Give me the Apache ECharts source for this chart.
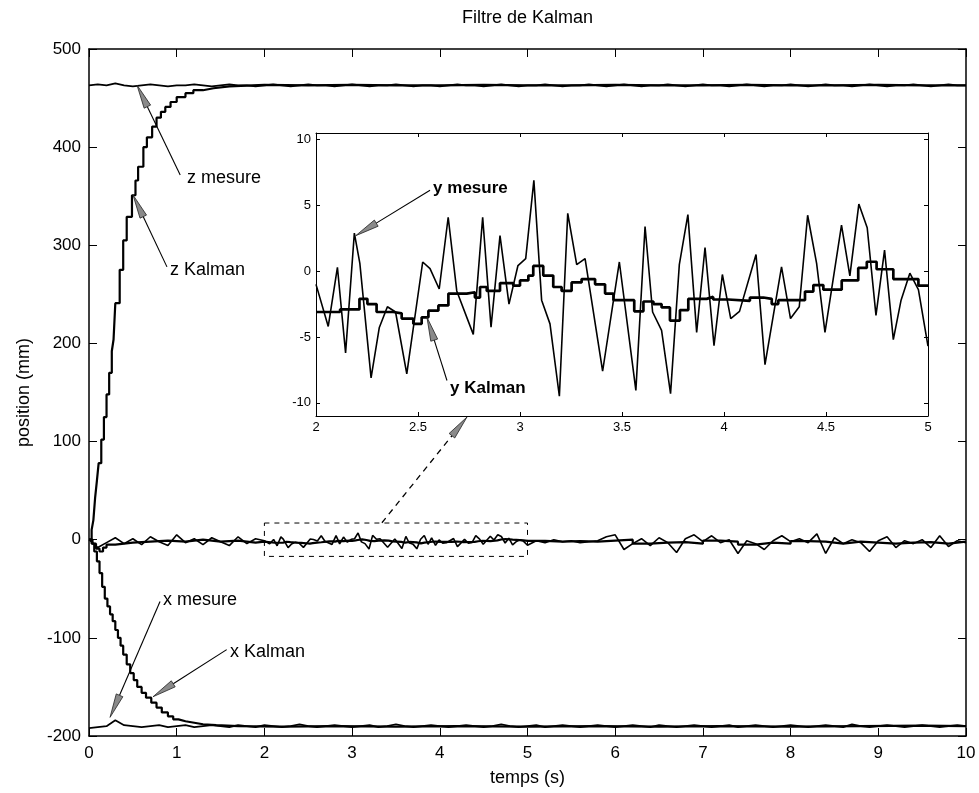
<!DOCTYPE html>
<html><head><meta charset="utf-8">
<script src="https://cdn.jsdelivr.net/npm/echarts@6/dist/echarts.min.js"></script>
<style>html,body{margin:0;padding:0;background:#fff}#c{width:979px;height:793px}</style>
</head><body><div id="c"></div><script>
const FONT = '"Liberation Sans", Arial, Helvetica, sans-serif';

// ---------- DATA ----------
const titleText = 'Filtre de Kalman';
const xName = 'temps (s)';
const yName = 'position (mm)';
const mainXTicks = [0, 10, 1];
const mainYTicks = [-200, 500, 100];
const insetXTicks = [2, 5, 0.5];
const insetYRange = [-11, 10.5];
const insetYLabels = [-10, -5, 0, 5, 10];

const mesureStep = 0.1; // spacing of z / x measurement samples (s)
const zMesure = [
  463,464,463,465,463,462,463,464,463,462, 463,463,464,463,462,463,464,463,463,462,
  463,464,463,462,463,464,463,463,462,463, 464,463,462,463,463,464,463,462,463,463,
  462,463,464,463,463,462,463,464,463,462, 463,463,464,463,462,463,463,464,463,462,
  463,464,463,462,463,463,464,463,462,463, 464,463,463,462,463,464,463,462,463,463,
  464,463,462,463,464,463,463,462,463,464, 463,462,463,463,464,463,462,463,464,463,
  463
];
const xMesure = [
  -192,-191,-190,-184,-189,-190,-191,-190,-189,-191, -190,-189,-191,-190,-189,-190,-191,-189,-190,-191,
  -189,-190,-191,-190,-188,-190,-191,-190,-189,-190, -191,-190,-189,-191,-190,-188,-190,-191,-190,-189,
  -190,-191,-190,-189,-190,-191,-190,-188,-190,-191, -190,-189,-191,-190,-189,-190,-191,-190,-189,-190,
  -191,-190,-189,-190,-191,-189,-190,-191,-190,-189, -190,-191,-190,-189,-191,-190,-189,-190,-191,-190,
  -189,-190,-191,-190,-189,-190,-191,-188,-190,-191, -190,-189,-190,-191,-190,-189,-190,-191,-190,-189,
  -190
];
const zKalman = [
  [0,0],[0.03,10],[0.05,20],[0.07,43],[0.09,60],[0.11,78],[0.14,102],[0.17,125],[0.2,148],[0.23,170],
  [0.26,192],[0.28,204],[0.3,241],[0.35,275],[0.39,305],[0.43,329],[0.49,351],[0.53,366],[0.56,380],
  [0.62,400],[0.66,410],[0.72,421],[0.77,430],[0.82,436],[0.87,441],[0.93,446],[1.0,451],[1.1,455],
  [1.19,458],[1.3,460],[1.42,462],[1.6,463.5],[2.0,463],[2.5,463.5],[3.0,463],[3.5,463],[4.0,463.5],
  [4.5,463],[5.0,463],[5.5,463.5],[6.0,463],[6.5,463],[7.0,463.5],[7.5,463],[8.0,463],[8.5,463.5],
  [9.0,463],[9.5,463],[10,463]
];
const xKalman = [
  [0,0],[0.03,-4],[0.06,-12],[0.09,-22],[0.12,-34],[0.15,-48],[0.18,-60],[0.21,-68],[0.24,-76],
  [0.27,-83],[0.3,-92],[0.33,-100],[0.36,-108],[0.39,-117],[0.43,-127],[0.47,-136],[0.51,-143],
  [0.55,-150],[0.6,-156],[0.65,-161],[0.71,-166],[0.77,-171],[0.83,-176],[0.9,-180],[0.96,-183],
  [1.02,-185],[1.1,-186.5],[1.2,-188],[1.3,-189],[1.45,-190],[1.7,-190.5],[2.2,-190],[2.8,-190.5],
  [3.5,-190],[4.2,-190.5],[5.0,-190],[5.8,-190.5],[6.5,-190],[7.2,-190.5],[8.0,-190],[8.8,-189.5],
  [9.5,-190],[10,-190]
];
const yMesurePre = [
  [0,0],[0.1,-8],[0.2,-3],[0.3,2],[0.4,-4],[0.5,1],[0.6,-5],[0.7,3],[0.8,-2],[0.9,-6],
  [1.0,5],[1.1,-3],[1.2,1],[1.3,-5],[1.4,2],[1.5,-2],[1.6,-6],[1.7,3],[1.8,-4],[1.9,1]
];
const yMesureZoom = [
  [2.0,-1.0],[2.06,-4.2],[2.105,0.3],[2.145,-6.2],[2.188,2.9],[2.215,0.6],[2.27,-8.1],[2.31,-4.3],
  [2.35,-2.7],[2.39,-3.1],[2.445,-7.8],[2.523,0.7],[2.559,0.2],[2.604,-1.35],[2.648,4.1],[2.69,-1.5],
  [2.771,-4.8],[2.817,4.1],[2.858,-4.25],[2.902,2.7],[2.946,-2.5],[2.99,0.43],[3.028,0.95],[3.068,6.9],
  [3.106,-2.2],[3.147,-4.0],[3.193,-9.5],[3.234,4.4],[3.278,0.5],[3.319,0.95],[3.405,-7.6],[3.487,0.7],
  [3.568,-9.05],[3.613,3.4],[3.65,-3.1],[3.694,-4.5],[3.738,-9.3],[3.781,0.5],[3.823,4.3],[3.866,-4.65],
  [3.907,1.8],[3.951,-5.65],[3.992,-0.25],[4.033,-3.6],[4.076,-3.05],[4.157,1.27],[4.201,-7.1],
  [4.282,0.33],[4.326,-3.6],[4.369,-2.7],[4.41,4.25],[4.454,0.6],[4.495,-4.65],[4.576,3.5],
  [4.617,-0.35],[4.661,5.1],[4.702,3.3],[4.745,-3.35],[4.787,1.6],[4.83,-5.2],[4.868,-2.2],
  [4.911,-0.15],[4.953,-1.4],[5.0,-5.7]
];
const yMesurePost = [
  [5.1,-1],[5.2,-3],[5.3,0],[5.4,-2],[5.5,-1],[5.6,-3],[5.7,-2],[5.8,-1],[5.9,3],[6.0,5],
  [6.1,-10],[6.2,-4],[6.3,1],[6.4,-6],[6.5,2],[6.6,-3],[6.7,-13],[6.8,1],[6.9,5],[7.0,-2],
  [7.1,4],[7.2,-3],[7.3,0],[7.4,-14],[7.5,-1],[7.6,-4],[7.7,-10],[7.8,-1],[7.9,4],[8.0,-2],
  [8.1,1],[8.2,-3],[8.3,6],[8.4,-14],[8.5,2],[8.6,-4],[8.7,0],[8.8,-3],[8.9,-12],[9.0,-1],
  [9.1,3],[9.2,-8],[9.3,-1],[9.4,-4],[9.5,0],[9.6,-8],[9.7,4],[9.8,-7],[9.9,-1],[10.0,-3]
];
const yKalmanPre = [
  [0,0],[0.04,-4],[0.08,-9],[0.12,-12],[0.16,-8],[0.2,-5],[0.3,-3],[0.5,-2],[0.7,-1],[0.9,-2],
  [1.1,0],[1.3,-2],[1.5,-1],[1.7,-3],[1.9,-2]
];
const yKalmanZoom = [
  [2.0,-3.1],[2.118,-2.9],[2.213,-2.1],[2.252,-2.5],[2.297,-3.1],[2.379,-3.2],[2.42,-3.6],[2.477,-4.0],
  [2.518,-3.5],[2.551,-3.0],[2.6,-2.6],[2.649,-1.7],[2.739,-1.6],[2.779,-2.0],[2.804,-1.2],[2.837,-1.5],
  [2.902,-0.9],[2.967,-1.1],[3.0,-0.7],[3.041,-0.33],[3.065,0.4],[3.114,-0.33],[3.163,-1.2],[3.204,-1.5],
  [3.253,-0.85],[3.302,-0.6],[3.368,-1.0],[3.417,-1.7],[3.458,-2.2],[3.56,-3.05],[3.605,-2.3],
  [3.654,-2.5],[3.694,-2.75],[3.735,-3.75],[3.784,-2.95],[3.825,-2.1],[3.915,-1.95],[3.947,-2.15],
  [4.021,-2.25],[4.127,-2.0],[4.193,-2.1],[4.234,-2.5],[4.266,-2.2],[4.397,-1.55],[4.438,-1.05],
  [4.487,-1.4],[4.577,-0.7],[4.658,0.25],[4.7,0.72],[4.748,0.15],[4.83,-0.6],[4.953,-1.1],[5.0,-1.1]
];
const yKalmanPost = [
  [5.2,-2],[5.4,-1.5],[5.6,-2],[5.8,-1],[6.0,0],[6.2,-4],[6.4,-3],[6.6,-2.5],[6.8,-4],[7.0,-1],
  [7.2,-2],[7.4,-5],[7.6,-3],[7.8,-4],[8.0,-1.5],[8.2,-2],[8.4,-4],[8.6,-2],[8.8,-3],[9.0,-4],
  [9.2,-3],[9.4,-2.5],[9.6,-4],[9.8,-2],[10,-2.5]
];
const zoomBox = [[2, 17], [5, -17]];

// annotations (data coordinates)
const mainLabels = [
  ['z mesure', 1.117, 368.6], ['z Kalman', 0.924, 275],
  ['x mesure', 0.844, -61], ['x Kalman', 1.608, -114]
];
const mainArrows = [
  [1.04, 371.7, 0.547, 463.3], [0.889, 278, 0.502, 351.3],
  [0.81, -63, 0.24, -181], [1.57, -112, 0.73, -160]
];
const zoomArrow = [3.34, 17.3, 4.31, 125];
const insetLabels = [['y mesure', 2.574, 6.31], ['y Kalman', 2.657, -8.88]];
const insetArrows = [[2.559, 6.15, 2.195, 2.7], [2.642, -8.3, 2.544, -3.5]];

// ---------- CHART ----------
const chart = echarts.init(document.getElementById('c'), null, {renderer: 'canvas'});
const toPairs = (arr, dt) => arr.map((v, i) => [+(i * dt).toFixed(3), v]);
const black = '#000';

const tickCommon = (len) => ({show: true, inside: true, length: len, lineStyle: {color: black, width: 1}});

function mkX(gridIndex, pos, r, labels, extra) {
  return Object.assign({
    type: 'value', gridIndex, position: pos, min: r[0], max: r[1], interval: r[2],
    axisLine: {show: true, onZero: false, lineStyle: {color: black, width: gridIndex === 0 ? 1.5 : 1}},
    axisTick: tickCommon(gridIndex === 0 ? 8 : 4),
    splitLine: {show: false},
    axisLabel: {show: labels, color: black, fontFamily: FONT, fontSize: gridIndex === 0 ? 17 : 13, margin: gridIndex === 0 ? 9 : 5}
  }, extra || {});
}

const option = {
  animation: false,
  backgroundColor: '#fff',
  grid: [
    {left: 89, top: 49, width: 877, height: 687, show: false},
    {left: 316, top: 133, width: 612, height: 283, show: true, backgroundColor: '#fff', borderWidth: 0, z: 3}
  ],
  xAxis: [
    mkX(0, 'bottom', mainXTicks, true, {name: xName, nameLocation: 'middle', nameGap: 33,
      nameTextStyle: {color: black, fontFamily: FONT, fontSize: 18}}),
    mkX(0, 'top', mainXTicks, false, {name: titleText, nameLocation: 'middle', nameGap: 22,
      nameTextStyle: {color: black, fontFamily: FONT, fontSize: 18}}),
    mkX(1, 'bottom', insetXTicks, true, {z: 4}),
    mkX(1, 'top', insetXTicks, false, {z: 4})
  ],
  yAxis: [
    {type: 'value', gridIndex: 0, position: 'left', min: mainYTicks[0], max: mainYTicks[1], interval: mainYTicks[2],
     axisLine: {show: true, onZero: false, lineStyle: {color: black, width: 1.5}}, axisTick: tickCommon(8),
     splitLine: {show: false},
     axisLabel: {color: black, fontFamily: FONT, fontSize: 17, margin: 8},
     name: yName, nameLocation: 'middle', nameGap: 56, nameRotate: 90,
     nameTextStyle: {color: black, fontFamily: FONT, fontSize: 18}},
    {type: 'value', gridIndex: 0, position: 'right', min: mainYTicks[0], max: mainYTicks[1], interval: mainYTicks[2],
     axisLine: {show: true, onZero: false, lineStyle: {color: black, width: 1.5}}, axisTick: tickCommon(8),
     splitLine: {show: false}, axisLabel: {show: false}},
    {type: 'value', gridIndex: 1, position: 'left', min: insetYRange[0], max: insetYRange[1],
     axisLine: {show: true, onZero: false, lineStyle: {color: black, width: 1}},
     axisTick: {show: true, inside: true, length: 4, customValues: insetYLabels, lineStyle: {color: black}},
     splitLine: {show: false}, z: 4,
     axisLabel: {color: black, fontFamily: FONT, fontSize: 13, margin: 5, customValues: insetYLabels}},
    {type: 'value', gridIndex: 1, position: 'right', min: insetYRange[0], max: insetYRange[1],
     axisLine: {show: true, onZero: false, lineStyle: {color: black, width: 1}},
     axisTick: {show: true, inside: true, length: 4, customValues: insetYLabels, lineStyle: {color: black}},
     splitLine: {show: false}, axisLabel: {show: false}, z: 4}
  ],
  series: [
    {type: 'line', name: 'z mesure', xAxisIndex: 0, yAxisIndex: 0, data: toPairs(zMesure, mesureStep),
     showSymbol: false, lineStyle: {color: black, width: 1.7}},
    {type: 'line', name: 'z Kalman', xAxisIndex: 0, yAxisIndex: 0, data: zKalman, step: 'end',
     showSymbol: false, lineStyle: {color: black, width: 2.2}},
    {type: 'line', name: 'x mesure', xAxisIndex: 0, yAxisIndex: 0, data: toPairs(xMesure, mesureStep),
     showSymbol: false, lineStyle: {color: black, width: 1.7}},
    {type: 'line', name: 'x Kalman', xAxisIndex: 0, yAxisIndex: 0, data: xKalman, step: 'end',
     showSymbol: false, lineStyle: {color: black, width: 2.2}},
    {type: 'line', name: 'y mesure', xAxisIndex: 0, yAxisIndex: 0,
     data: yMesurePre.concat(yMesureZoom, yMesurePost),
     showSymbol: false, lineStyle: {color: black, width: 1.6},
     markArea: {silent: true, itemStyle: {color: 'rgba(0,0,0,0)', borderColor: black, borderWidth: 1, borderType: [5, 5]},
       data: [[{coord: zoomBox[0]}, {coord: zoomBox[1]}]]}},
    {type: 'line', name: 'y Kalman', xAxisIndex: 0, yAxisIndex: 0,
     data: yKalmanPre.concat(yKalmanZoom, yKalmanPost), step: 'end',
     showSymbol: false, lineStyle: {color: black, width: 2.2}},
    {type: 'line', name: 'y mesure zoom', xAxisIndex: 2, yAxisIndex: 2, data: yMesureZoom, z: 5,
     showSymbol: false, lineStyle: {color: black, width: 1.6}},
    {type: 'line', name: 'y Kalman zoom', xAxisIndex: 2, yAxisIndex: 2, data: yKalmanZoom, step: 'end', z: 5,
     showSymbol: false, lineStyle: {color: black, width: 2.7}}
  ]
};
chart.setOption(option);

// annotations positioned through the chart's own scales
const g = [];
function px(grid, x, y) { return chart.convertToPixel({gridIndex: grid}, [x, y]); }
function arrow(grid, a, dashed) {
  const s = px(grid, a[0], a[1]), t = px(grid, a[2], a[3]);
  const dx = t[0] - s[0], dy = t[1] - s[1], L = Math.hypot(dx, dy);
  const ux = dx / L, uy = dy / L, hl = 24, hw = 3.6;
  const bx = t[0] - ux * hl, by = t[1] - uy * hl;
  g.push({type: 'line', z: 100, shape: {x1: s[0], y1: s[1], x2: bx, y2: by},
    style: {stroke: black, lineWidth: dashed ? 1.3 : 1.1, lineDash: dashed ? [6, 5] : null}});
  g.push({type: 'polygon', z: 101, shape: {points: [[t[0], t[1]], [bx - uy * hw, by + ux * hw], [bx + uy * hw, by - ux * hw]]},
    style: {fill: '#8a8a8a', stroke: '#222', lineWidth: 0.8}});
}
function label(grid, l, bold, size) {
  const p = px(grid, l[1], l[2]);
  g.push({type: 'text', z: 102, x: p[0], y: p[1],
    style: {text: l[0], fill: black, fontFamily: FONT, fontSize: size, fontWeight: bold ? 'bold' : 'normal',
      align: 'left', verticalAlign: 'middle'}});
}
mainArrows.forEach(a => arrow(0, a, false));
arrow(0, zoomArrow, true);
insetArrows.forEach(a => arrow(1, a, false));
mainLabels.forEach(l => label(0, l, false, 18));
insetLabels.forEach(l => label(1, l, true, 17));
chart.setOption({graphic: g});
</script></body></html>
